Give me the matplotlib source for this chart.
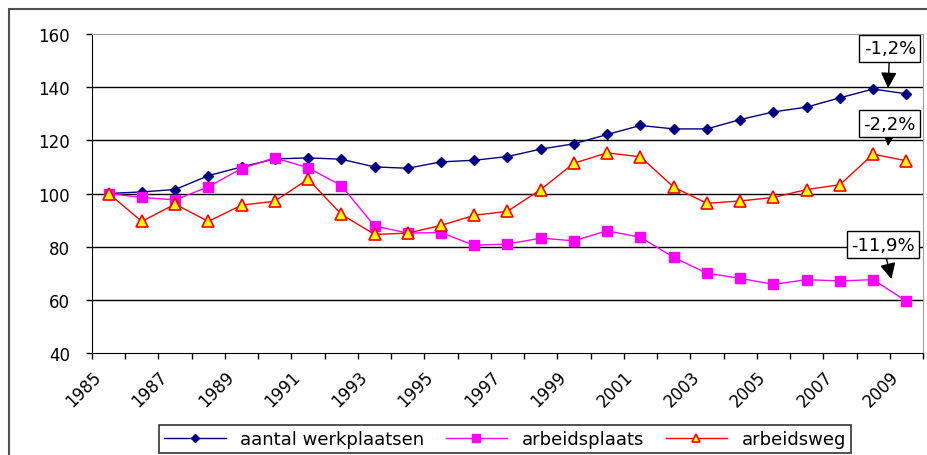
import matplotlib
matplotlib.use("Agg")
import matplotlib.pyplot as plt
from matplotlib.patches import Rectangle

plt.rcParams['font.family'] = ['DejaVu Sans']

years = list(range(1985, 2010))
tick_labels = [str(y) for y in range(1985, 2010, 2)]

werkplaatsen = [100, 100.6, 101.5, 106.7, 110, 113, 113.4, 112.9, 110, 109.5,
                111.9, 112.5, 113.9, 116.7, 118.7, 122.2, 125.6, 124.3, 124.3,
                127.8, 130.7, 132.5, 136, 139.3, 137.5]
arbeidsplaats = [100, 98.5, 97.6, 102.5, 109.4, 113.4, 109.7, 103, 87.8, 85.1,
                 85.3, 80.5, 81, 83.2, 82.2, 86, 83.5, 76, 70, 68.1,
                 65.8, 67.6, 67.1, 67.6, 59.5]
arbeidsweg = [100, 89.5, 96, 89.5, 95.6, 97.1, 105.4, 92.2, 84.6, 85.1,
              88, 91.8, 93.3, 101.5, 111.4, 115.3, 113.8, 102.4, 96.3, 97.2,
              98.5, 101.5, 103.3, 114.8, 112.3]

series_names = ['aantal werkplaatsen', 'arbeidsplaats', 'arbeidsweg']
annot_texts = ['-1,2%', '-2,2%', '-11,9%']

fig = plt.figure(figsize=(9.28, 4.56), dpi=100)
ax = fig.add_axes([92/928, 1-354/456, (923-92)/928, (354-35)/456])

x = [i + 0.5 for i in range(len(years))]
ax.plot(x, werkplaatsen, color='#000080', lw=1, marker='D', ms=5,
        mfc='#000080', mec='#000080', label=series_names[0], zorder=3)
ax.plot(x, arbeidsplaats, color='#FF00FF', lw=1, marker='s', ms=6.5,
        mfc='#FF00FF', mec='#FF00FF', label=series_names[1], zorder=3)
ax.plot(x, arbeidsweg, color='#FF0000', lw=1, marker='^', ms=8,
        mfc='#FFFF00', mec='#FF0000', mew=1.2, label=series_names[2], zorder=4)

ax.set_xlim(0, len(years))
ax.set_ylim(40, 160)
ax.set_yticks(range(40, 161, 20))
ax.set_xticks(range(0, len(years) + 1))
ax.set_xticklabels([tick_labels[i // 2] if (i % 2 == 0 and i // 2 < len(tick_labels)) else ''
                    for i in range(len(years) + 1)],
                   rotation=45, ha='right', rotation_mode='anchor')
ax.tick_params(axis='both', direction='out', length=4, width=1, colors='black',
               labelsize=12)
ax.tick_params(axis='x', pad=6)
ax.tick_params(axis='y', pad=12)

ax.grid(axis='y', color='black', lw=1)
ax.set_axisbelow(True)
gl = ax.yaxis.get_gridlines()
gl[0].set_visible(False)
gl[-1].set_visible(False)
for s in ['top', 'right']:
    ax.spines[s].set_color('#A0A0A0')
for s in ['left', 'bottom']:
    ax.spines[s].set_color('black')

# annotations
ann_tips = [(23.95, 139.6), (23.95, 117.8), (24.05, 67.8)]
ann_boxes = [(24.0, 154.6), (24.0, 126.2), (23.8, 80.7)]
for t, tip, box in zip(annot_texts, ann_tips, ann_boxes):
    ax.annotate(t, xy=tip, xytext=box, textcoords='data', ha='center', va='center',
                fontsize=13,
                bbox=dict(boxstyle='square,pad=0.25', fc='white', ec='black', lw=1),
                arrowprops=dict(arrowstyle='-|>', color='black', lw=1,
                                mutation_scale=24, shrinkA=0, shrinkB=0),
                zorder=6)

leg = fig.legend(loc='center', bbox_to_anchor=(505/928, 1-440/456), ncol=3,
                 fontsize=13, frameon=True, fancybox=False, edgecolor='black',
                 handlelength=3.4, columnspacing=1.2, borderpad=0.3,
                 markerscale=0.8)
leg.get_frame().set_linewidth(1.2)

fig.patches.append(Rectangle((9/928, -0.1), 1.2, 1.1 - 10/456,
                             transform=fig.transFigure, fill=False,
                             ec='#505050', lw=1.5))

fig.savefig('out.png', dpi=100)
